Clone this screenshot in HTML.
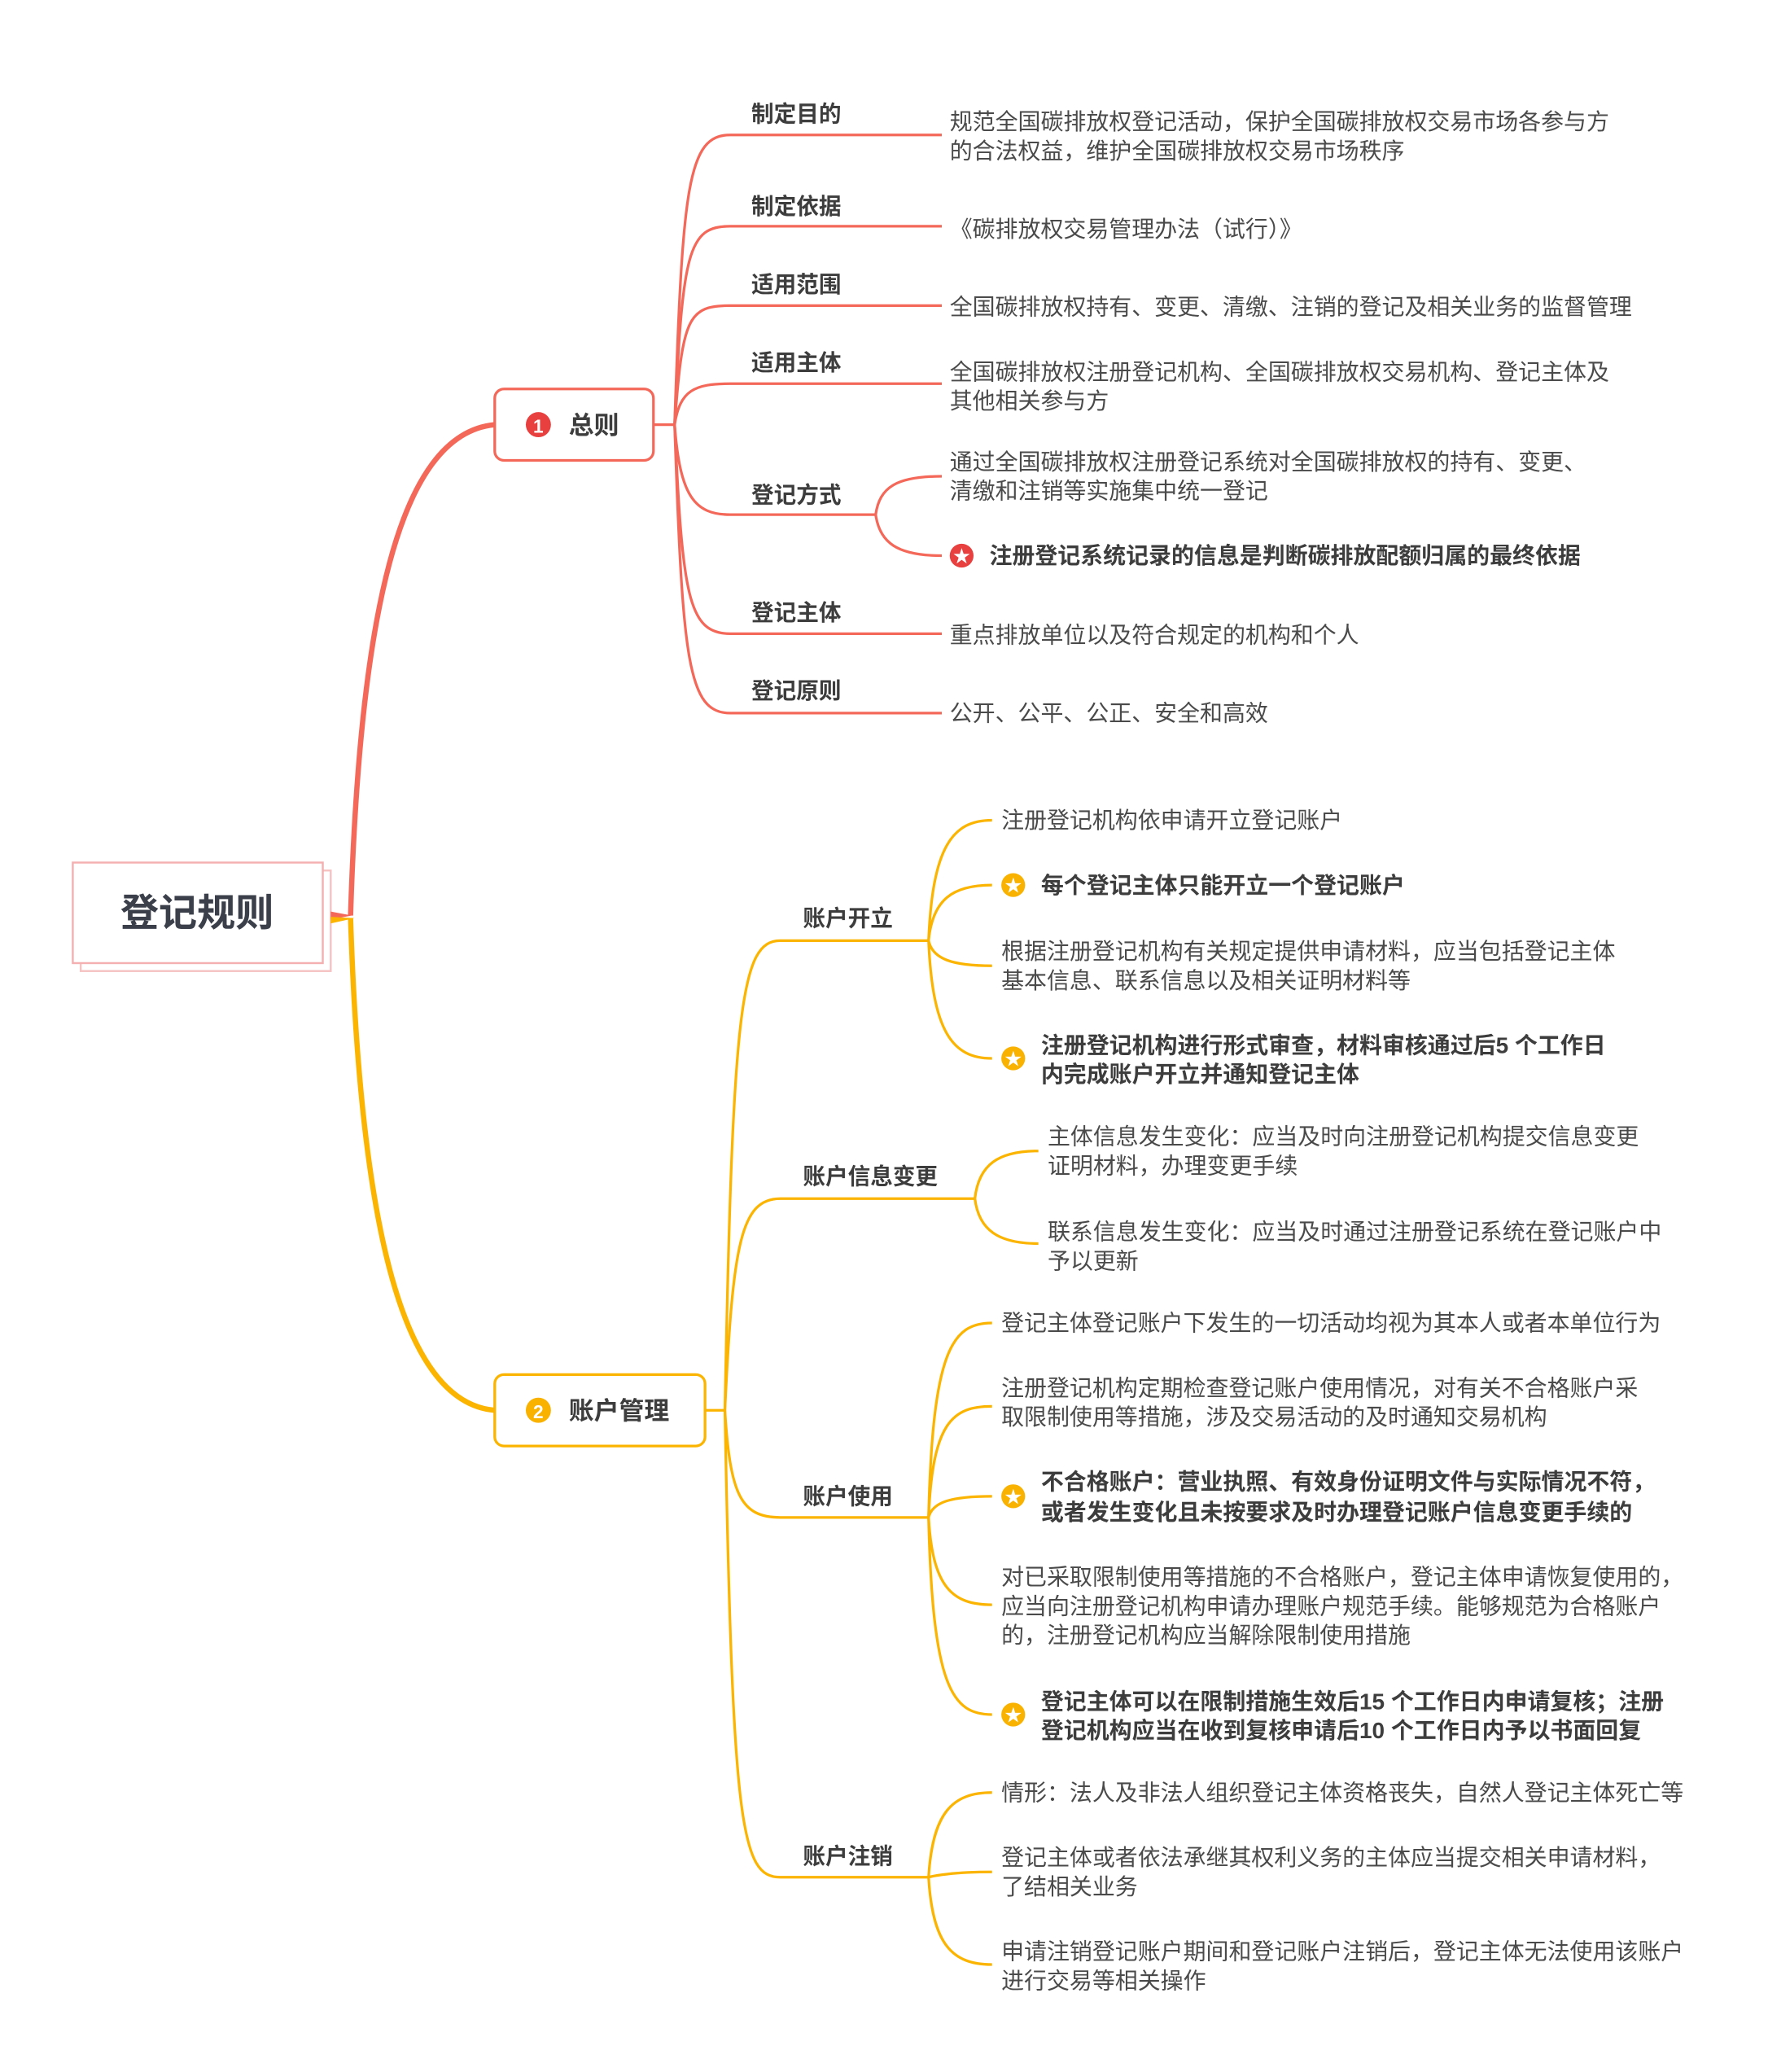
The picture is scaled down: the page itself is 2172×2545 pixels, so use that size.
<!DOCTYPE html>
<html><head><meta charset="utf-8"><style>
html,body{margin:0;padding:0;background:#fff}
svg{display:block}
text{font-family:"Liberation Sans","Noto Sans CJK SC",sans-serif;fill:#4a4a4a}
.l{font-size:17px;font-weight:bold;fill:#3d3d3d}
.c{font-size:17.2px}
.b{font-size:17.2px;font-weight:bold;fill:#3d3d3d}
.r{fill:none;stroke:#f4685a;stroke-width:2}
.y{fill:none;stroke:#fbb400;stroke-width:2}
</style></head><body>
<svg width="2172" height="2545" viewBox="0 0 1336.6 1566.2" xmlns="http://www.w3.org/2000/svg">
<!-- root -->
<rect x="61" y="658" width="189" height="76" fill="#fff" stroke="#f6c3c3" stroke-width="1.5"/>
<rect x="55" y="652" width="189" height="76" fill="#fff" stroke="#f4b0b0" stroke-width="1.5"/>
<text x="149" y="700" text-anchor="middle" style="font-size:29px;font-weight:bold;fill:#3a3f4a">登记规则</text>
<path d="M250,689 L266,692 L250,695 Z" fill="#f4685a"/>
<path d="M250,693 L268,694 L250,698 Z" fill="#fbb400"/>
<!-- main branches -->
<path d="M265,692 C272,470 300,328 374,321" fill="none" stroke="#f4685a" stroke-width="4"/>
<path d="M265,694 C272,910 300,1060 374,1066" fill="none" stroke="#fbb400" stroke-width="4"/>
<!-- 总则 -->
<rect x="374" y="294" width="120" height="54" rx="7" fill="#fff" stroke="#f4685a" stroke-width="2"/>
<circle cx="407" cy="321" r="9.5" fill="#e8403f"/>
<text x="407" y="327" text-anchor="middle" style="font-size:14px;font-weight:bold;fill:#fff">1</text>
<text x="430" y="328" style="font-size:19px;font-weight:bold;fill:#3d3d3d">总则</text>
<!-- 账户管理 -->
<rect x="374" y="1039" width="159" height="54" rx="7" fill="#fff" stroke="#fbb400" stroke-width="2"/>
<circle cx="407" cy="1066" r="9.5" fill="#f9b200"/>
<text x="407" y="1072" text-anchor="middle" style="font-size:14px;font-weight:bold;fill:#fff">2</text>
<text x="430" y="1073" style="font-size:19px;font-weight:bold;fill:#3d3d3d">账户管理</text>

<!-- red sub branches -->
<path class="r" d="M494,321 H510"/>
<g class="r">
<path d="M510,321 C516,140 520,102 552,102 H712"/>
<path d="M510,321 C516,190 520,171 552,171 H712"/>
<path d="M510,321 C516,240 520,231 552,231 H712"/>
<path d="M510,321 C514,295 525,290 552,290 H712"/>
<path d="M510,321 C514,375 525,389 552,389 H662"/>
<path d="M510,321 C516,450 520,479 552,479 H712"/>
<path d="M510,321 C516,500 520,539 552,539 H712"/>
<path d="M662,389 C665,368 678,360 712,360"/>
<path d="M662,389 C665,410 678,420 712,420"/>
</g>
<text class="l" x="568" y="92">制定目的</text>
<text class="l" x="568" y="162">制定依据</text>
<text class="l" x="568" y="221">适用范围</text>
<text class="l" x="568" y="280">适用主体</text>
<text class="l" x="568" y="380">登记方式</text>
<text class="l" x="568" y="469">登记主体</text>
<text class="l" x="568" y="528">登记原则</text>
<text class="c" x="718" y="98">规范全国碳排放权登记活动，保护全国碳排放权交易市场各参与方</text>
<text class="c" x="718" y="120">的合法权益，维护全国碳排放权交易市场秩序</text>
<text class="c" x="718" y="179">《碳排放权交易管理办法（试行）》</text>
<text class="c" x="718" y="238">全国碳排放权持有、变更、清缴、注销的登记及相关业务的监督管理</text>
<text class="c" x="718" y="287">全国碳排放权注册登记机构、全国碳排放权交易机构、登记主体及</text>
<text class="c" x="718" y="309">其他相关参与方</text>
<text class="c" x="718" y="355">通过全国碳排放权注册登记系统对全国碳排放权的持有、变更、</text>
<text class="c" x="718" y="377">清缴和注销等实施集中统一登记</text>
<circle cx="727" cy="420" r="9" fill="#e8403f"/>
<text x="727" y="425" text-anchor="middle" style="font-size:13px;fill:#fff">★</text>
<text class="b" x="748" y="426">注册登记系统记录的信息是判断碳排放配额归属的最终依据</text>
<text class="c" x="718" y="486">重点排放单位以及符合规定的机构和个人</text>
<text class="c" x="718" y="545">公开、公平、公正、安全和高效</text>

<!-- yellow sub branches -->
<path class="y" d="M533,1066 H548"/>
<g class="y">
<path d="M548,1066 C554,760 560,711 590,711 H702"/>
<path d="M548,1066 C554,940 560,906 590,906 H737"/>
<path d="M548,1066 C552,1130 560,1147 590,1147 H702"/>
<path d="M548,1066 C554,1380 560,1419 590,1419 H702"/>
<path d="M702,711 C705,640 720,620 750,620"/>
<path d="M702,711 C705,680 720,669 750,669"/>
<path d="M702,711 C705,725 720,730 750,730"/>
<path d="M702,711 C705,780 720,800 750,800"/>
<path d="M737,906 C740,880 755,870 785,870"/>
<path d="M737,906 C740,930 755,940 785,940"/>
<path d="M702,1147 C705,1020 720,1000 750,1000"/>
<path d="M702,1147 C705,1075 720,1063 750,1063"/>
<path d="M702,1147 C705,1135 720,1131 750,1131"/>
<path d="M702,1147 C705,1200 720,1213 750,1213"/>
<path d="M702,1147 C705,1276 720,1296 750,1296"/>
<path d="M702,1419 C705,1370 720,1355 750,1355"/>
<path d="M702,1419 C705,1418 720,1415 750,1415"/>
<path d="M702,1419 C705,1470 720,1485 750,1485"/>
</g>
<text class="l" x="607" y="700">账户开立</text>
<text class="l" x="607" y="895">账户信息变更</text>
<text class="l" x="607" y="1137">账户使用</text>
<text class="l" x="607" y="1409">账户注销</text>

<text class="c" x="757" y="626">注册登记机构依申请开立登记账户</text>
<circle cx="766" cy="669" r="9" fill="#f9b200"/>
<text x="766" y="674" text-anchor="middle" style="font-size:13px;fill:#fff">★</text>
<text class="b" x="787" y="675">每个登记主体只能开立一个登记账户</text>
<text class="c" x="757" y="725">根据注册登记机构有关规定提供申请材料，应当包括登记主体</text>
<text class="c" x="757" y="747">基本信息、联系信息以及相关证明材料等</text>
<circle cx="766" cy="800" r="9" fill="#f9b200"/>
<text x="766" y="805" text-anchor="middle" style="font-size:13px;fill:#fff">★</text>
<text class="b" x="787" y="796">注册登记机构进行形式审查，材料审核通过后5 个工作日</text>
<text class="b" x="787" y="818">内完成账户开立并通知登记主体</text>

<text class="c" x="792" y="865">主体信息发生变化：应当及时向注册登记机构提交信息变更</text>
<text class="c" x="792" y="887">证明材料，办理变更手续</text>
<text class="c" x="792" y="937">联系信息发生变化：应当及时通过注册登记系统在登记账户中</text>
<text class="c" x="792" y="959">予以更新</text>

<text class="c" x="757" y="1006">登记主体登记账户下发生的一切活动均视为其本人或者本单位行为</text>
<text class="c" x="757" y="1055">注册登记机构定期检查登记账户使用情况，对有关不合格账户采</text>
<text class="c" x="757" y="1077">取限制使用等措施，涉及交易活动的及时通知交易机构</text>
<circle cx="766" cy="1131" r="9" fill="#f9b200"/>
<text x="766" y="1136" text-anchor="middle" style="font-size:13px;fill:#fff">★</text>
<text class="b" x="787" y="1126">不合格账户：营业执照、有效身份证明文件与实际情况不符，</text>
<text class="b" x="787" y="1149">或者发生变化且未按要求及时办理登记账户信息变更手续的</text>
<text class="c" x="757" y="1198">对已采取限制使用等措施的不合格账户，登记主体申请恢复使用的，</text>
<text class="c" x="757" y="1220">应当向注册登记机构申请办理账户规范手续。能够规范为合格账户</text>
<text class="c" x="757" y="1242">的，注册登记机构应当解除限制使用措施</text>
<circle cx="766" cy="1296" r="9" fill="#f9b200"/>
<text x="766" y="1301" text-anchor="middle" style="font-size:13px;fill:#fff">★</text>
<text class="b" x="787" y="1292">登记主体可以在限制措施生效后15 个工作日内申请复核；注册</text>
<text class="b" x="787" y="1314">登记机构应当在收到复核申请后10 个工作日内予以书面回复</text>

<text class="c" x="757" y="1361">情形：法人及非法人组织登记主体资格丧失，自然人登记主体死亡等</text>
<text class="c" x="757" y="1410">登记主体或者依法承继其权利义务的主体应当提交相关申请材料，</text>
<text class="c" x="757" y="1432">了结相关业务</text>
<text class="c" x="757" y="1481">申请注销登记账户期间和登记账户注销后，登记主体无法使用该账户</text>
<text class="c" x="757" y="1503">进行交易等相关操作</text>
</svg>
</body></html>
